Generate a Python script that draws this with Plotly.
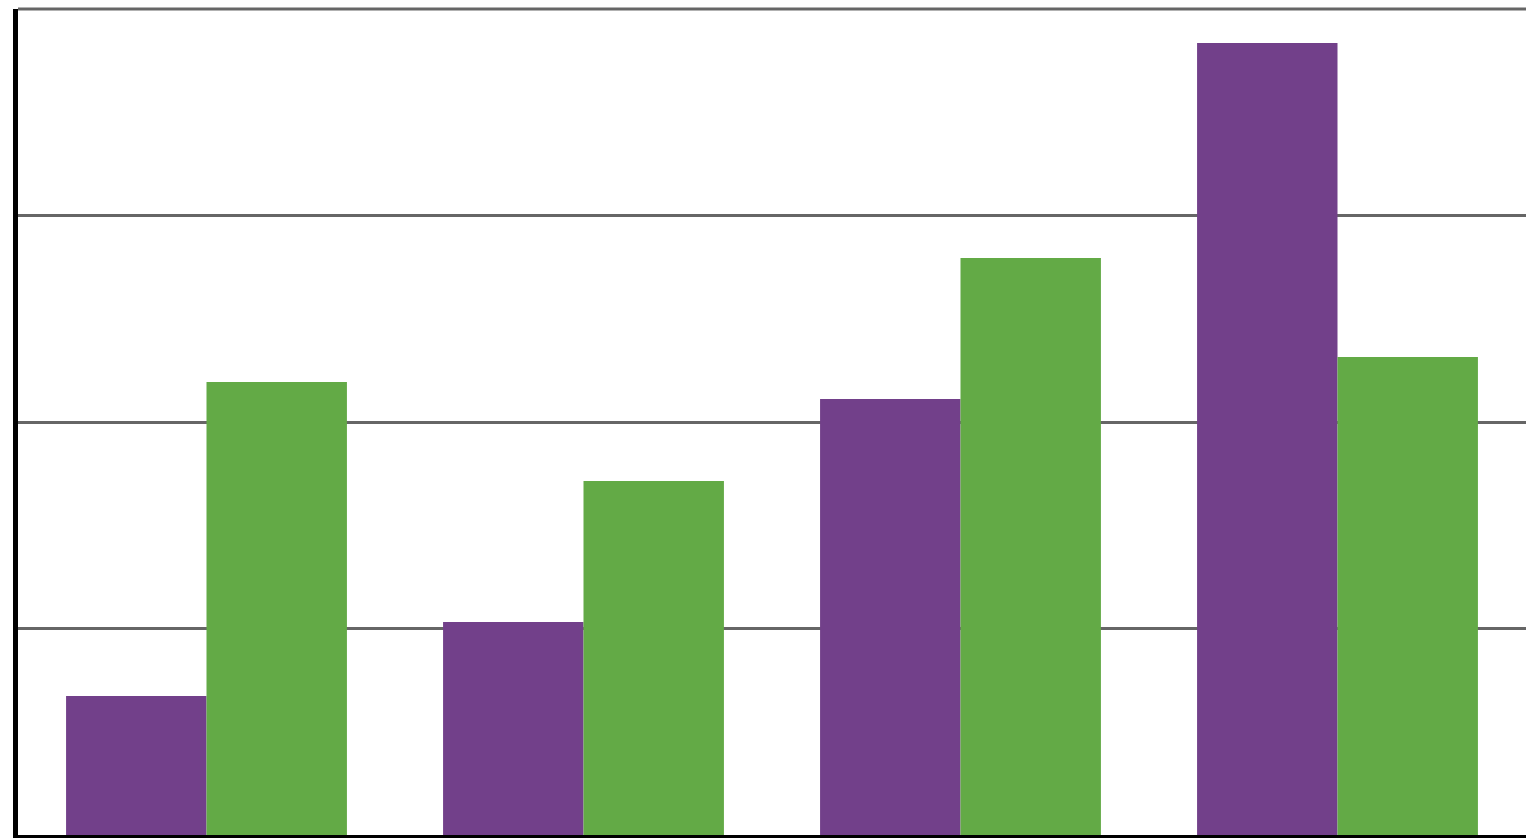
import plotly.graph_objects as go

categories = ["A", "B", "C", "D"]
series1 = [0.673, 1.031, 2.111, 3.835]
series2 = [2.194, 1.714, 2.794, 2.315]

fig = go.Figure()
fig.add_trace(go.Bar(x=categories, y=series1, name="Series 1",
                     marker=dict(color="#72408A", line=dict(width=0))))
fig.add_trace(go.Bar(x=categories, y=series2, name="Series 2",
                     marker=dict(color="#63AA46", line=dict(width=0))))

fig.add_shape(type="line", xref="paper", yref="paper", x0=0, x1=1, y0=1, y1=1,
              line=dict(color="#666666", width=3), layer="above")

fig.update_layout(
    width=1526, height=838,
    margin=dict(l=18, r=0, t=9, b=3),
    paper_bgcolor="white", plot_bgcolor="white",
    barmode="group", bargap=0.255, bargroupgap=0,
    showlegend=False,
    xaxis=dict(showticklabels=False, ticks="", showgrid=False,
               showline=True, linecolor="black", linewidth=5, zeroline=False),
    yaxis=dict(range=[0, 4], dtick=1, showticklabels=False, ticks="",
               showgrid=True, gridcolor="#666666", gridwidth=2.5,
               showline=True, linecolor="black", linewidth=5, zeroline=False),
)
fig.write_html("out.html")
